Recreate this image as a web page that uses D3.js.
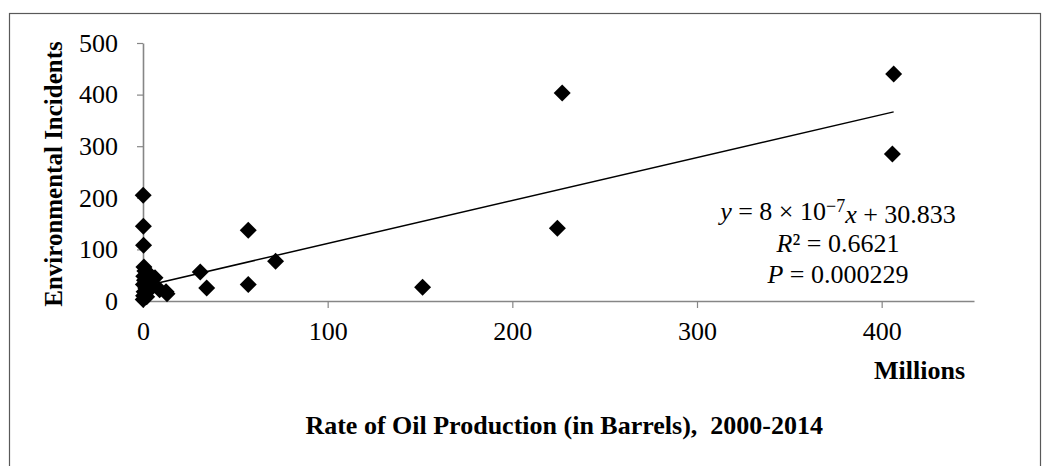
<!DOCTYPE html>
<html>
<head>
<meta charset="utf-8">
<script src="https://cdn.jsdelivr.net/npm/d3@7"></script>
<style>
  body { margin: 0; background: #fff; }
  text { font-family: "Liberation Serif", "Times New Roman", serif; }
</style>
</head>
<body>
<div id="chart"></div>
<script>
  // Oil production (millions of barrels) vs environmental incidents
  var production = [0.1, 0.2, 0.3, 0.5, 1.0, 0.4, 0.8, 0.2, 1.5, 0.6, 0.3, 0.1,
      3.5, 2.5, 6.5, 5.0, 9.0, 12.5, 13.0, 2.0,
      31, 34.5, 57, 57, 71.8, 151.4, 224.4, 227, 406.5, 405.8];
  var incidents = [205, 145, 108, 66, 58, 48, 40, 32, 25, 18, 10, 3,
      52, 35, 45, 27, 22, 18, 14, 8,
      56, 25, 137, 32, 77, 26.5, 141, 403, 440, 285];

  var xTicks = [0, 100, 200, 300, 400];
  var yTicks = [0, 100, 200, 300, 400, 500];

  // trendline as it is drawn in the picture (from min to max x)
  var trendX = [0, 406.5];
  var trendSlope = 0.832;
  var trendIntercept = 28.3;

  var equationLines = ['R\u00b2 = 0.6621', 'P = 0.000229'];

  // Sizes
  var W = 1049, H = 466;
  var margin = { top: 43, right: 75, bottom: 165, left: 143 };
  var width = W - margin.left - margin.right;
  var height = H - margin.top - margin.bottom;

  var root = d3.select('#chart')
      .append('svg')
      .attr('width', W)
      .attr('height', H);

  // chart border
  root.append('rect')
      .attr('x', 9.5)
      .attr('y', 13.5)
      .attr('width', 1031)
      .attr('height', 520)
      .attr('fill', 'none')
      .attr('stroke', '#595959')
      .attr('stroke-width', 1.2);

  var svg = root.append('g')
      .attr('transform', 'translate(' + margin.left + ',' + margin.top + ')');

  var x = d3.scaleLinear().domain([0, 450]).range([0, width]);
  var y = d3.scaleLinear().domain([0, 500]).range([height, 0]);

  // axes
  var xAxis = svg.append('g')
      .attr('transform', 'translate(0,' + height + ')')
      .call(d3.axisBottom(x).tickValues(xTicks).tickSizeInner(7).tickSizeOuter(0).tickPadding(14));

  var yAxis = svg.append('g')
      .call(d3.axisLeft(y).tickValues(yTicks).tickSizeInner(6).tickSizeOuter(0).tickPadding(19));

  [xAxis, yAxis].forEach(function(ax) {
      ax.select('.domain').attr('stroke', '#868686').attr('stroke-width', 1.6);
      ax.selectAll('.tick line').attr('stroke', '#868686').attr('stroke-width', 1.2);
      ax.selectAll('.tick text')
          .attr('fill', '#000')
          .style('font-family', '"Liberation Serif", "Times New Roman", serif')
          .style('font-size', '26px');
  });

  // trendline
  var line = d3.line()
      .x(function(d) { return x(d); })
      .y(function(d) { return y(trendSlope * d + trendIntercept); });

  svg.append('path')
      .datum(trendX)
      .attr('d', line)
      .attr('fill', 'none')
      .attr('stroke', '#000')
      .attr('stroke-width', 1.5);

  // diamonds
  var diamond = d3.symbol().type(d3.symbolSquare).size(144);
  svg.selectAll('.pt')
      .data(production)
      .enter().append('path')
      .attr('class', 'pt')
      .attr('d', diamond)
      .attr('transform', function(d, i) {
          return 'translate(' + x(d) + ',' + y(incidents[i]) + ') rotate(45)';
      })
      .attr('fill', '#000');

  // regression label
  var eq = root.append('text')
      .attr('x', 838)
      .attr('y', 220)
      .attr('text-anchor', 'middle')
      .style('font-size', '26px');
  eq.append('tspan').style('font-style', 'italic').text('y');
  eq.append('tspan').text(' = 8 \u00d7 10');
  eq.append('tspan').attr('dy', '-0.42em').style('font-size', '18px').text('\u2212' + '7');
  eq.append('tspan').attr('dy', '0.42em').style('font-style', 'italic').text('x');
  eq.append('tspan').text(' + 30.833');

  equationLines.forEach(function(s, i) {
      var t = root.append('text')
          .attr('x', 838)
          .attr('y', 252 + i * 31)
          .attr('text-anchor', 'middle')
          .style('font-size', '26px');
      var parts = s.split(' = ');
      var head = parts[0];
      if (head.charAt(0) === 'R') {
          t.append('tspan').style('font-style', 'italic').text('R');
          t.append('tspan').text(head.slice(1));
      } else {
          t.append('tspan').style('font-style', 'italic').text(head);
      }
      t.append('tspan').text(' = ' + parts[1]);
  });

  // axis titles
  root.append('text')
      .attr('transform', 'translate(62,' + (margin.top + height / 2 + 2) + ') rotate(-90)')
      .attr('text-anchor', 'middle')
      .style('font-size', '25px')
      .style('font-weight', 'bold')
      .text('Environmental Incidents');

  root.append('text')
      .attr('x', 965)
      .attr('y', 379)
      .attr('text-anchor', 'end')
      .style('font-size', '26px')
      .style('font-weight', 'bold')
      .text('Millions');

  root.append('text')
      .attr('x', 823)
      .attr('y', 434)
      .attr('text-anchor', 'end')
      .style('font-size', '26px')
      .style('font-weight', 'bold')
      .style('white-space', 'pre')
      .text('Rate of Oil Production (in Barrels),  2000-2014');
</script>
</body>
</html>
